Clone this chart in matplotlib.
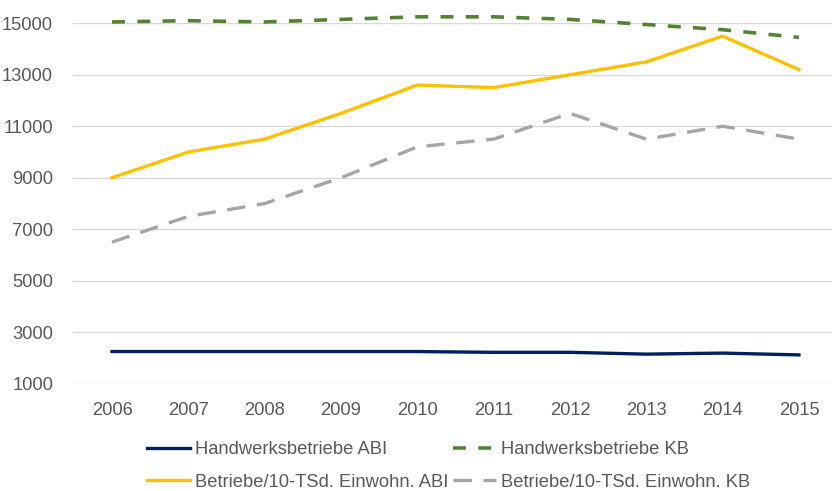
import matplotlib
matplotlib.use("Agg")
import matplotlib.pyplot as plt

years = ["2006", "2007", "2008", "2009", "2010", "2011", "2012", "2013", "2014", "2015"]
hw_abi = [2250, 2250, 2250, 2250, 2250, 2220, 2220, 2150, 2190, 2120]
hw_kb = [15050, 15100, 15050, 15150, 15250, 15250, 15150, 14950, 14750, 14450]
bt_abi = [9000, 10000, 10500, 11500, 12600, 12500, 13000, 13500, 14500, 13200]
bt_kb = [6500, 7500, 8000, 9000, 10200, 10500, 11500, 10500, 11000, 10500]
yticks = [1000, 3000, 5000, 7000, 9000, 11000, 13000, 15000]

plt.rcParams['font.family'] = ['Liberation Sans', 'DejaVu Sans']
fig = plt.figure(figsize=(8.32, 4.91), dpi=100)
ax = fig.add_axes([73/832, 1 - 384/491, 1 - 73/832, (384 - 23) / 491])
x = list(range(len(years)))
l1, = ax.plot(x, hw_abi, color="#002060", lw=2.4, label="Handwerksbetriebe ABI", clip_on=False)
l2, = ax.plot(x, hw_kb, color="#548235", lw=2.6, dashes=(3.6, 3.4), label="Handwerksbetriebe KB", clip_on=False)
l3, = ax.plot(x, bt_abi, color="#FFC000", lw=2.4, label="Betriebe/10-TSd. Einwohn. ABI", clip_on=False)
l4, = ax.plot(x, bt_kb, color="#A5A5A5", lw=2.4, dashes=(5.5, 3.5), label="Betriebe/10-TSd. Einwohn. KB", clip_on=False)

ax.set_ylim(990, 15010)
ax.set_xlim(-0.511, 9.433)
ax.set_yticks(yticks)
ax.set_xticks(x)
ax.set_xticklabels(years)
ax.grid(axis='y', color="#D9D9D9", lw=1)
ax.set_axisbelow(True)
for s in ax.spines.values():
    s.set_visible(False)
ax.tick_params(length=0, labelsize=13.2, colors="#595959")
ax.tick_params(axis='x', pad=13)
ax.tick_params(axis='y', pad=14.4)

fig.legend(handles=[l1, l3, l2, l4], ncol=2, loc='upper left', bbox_to_anchor=(147/832, 1 - 441/491),
           frameon=False, fontsize=13.2, labelcolor="#595959", handlelength=2.35,
           columnspacing=0.27, handletextpad=0.27, labelspacing=0.85, borderpad=0, borderaxespad=0)
fig.savefig("out.png", dpi=100)
